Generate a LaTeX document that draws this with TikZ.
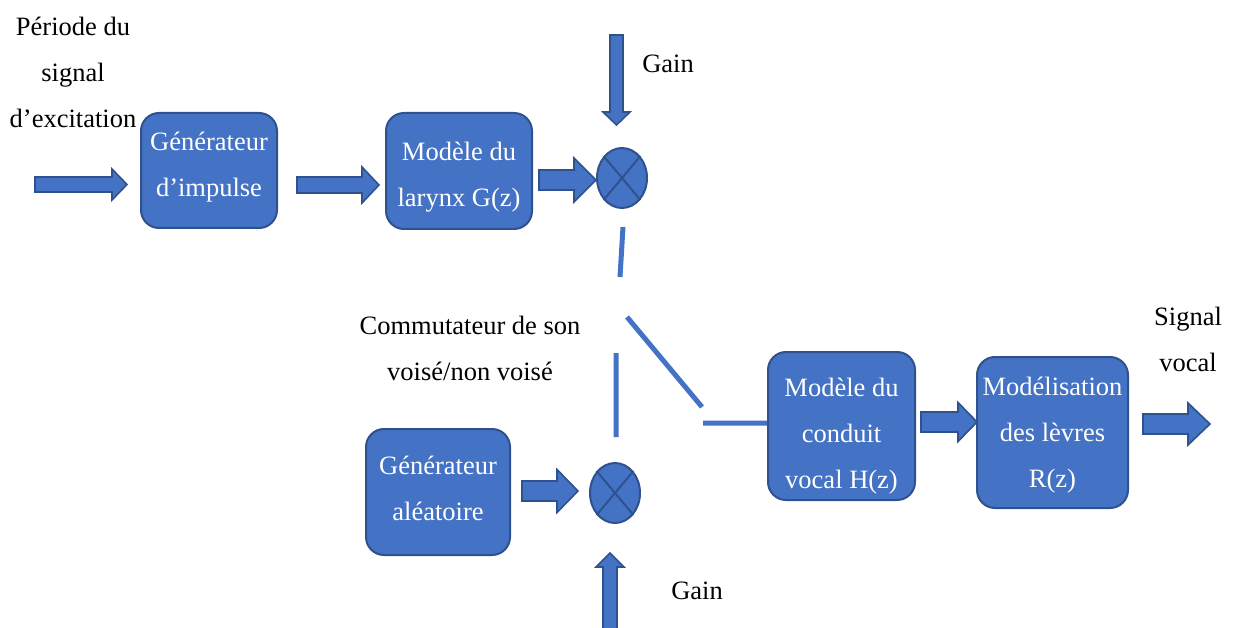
\documentclass[tikz,border=0pt]{standalone}
\usepackage{fontspec}
\setmainfont{Liberation Serif}
\usetikzlibrary{shapes.geometric}
\definecolor{bfill}{HTML}{4472C4}
\definecolor{bline}{HTML}{2F528F}
% block arrows: start, head base, tip, other axis, shaft half, head half
\newcommand{\blockH}[6]{\draw[barrow] (#1,#4-#5) -- (#2,#4-#5) -- (#2,#4-#6) -- (#3,#4)
    -- (#2,#4+#6) -- (#2,#4+#5) -- (#1,#4+#5) -- cycle;}
\newcommand{\blockV}[6]{\draw[barrow] (#4-#5,#1) -- (#4-#5,#2) -- (#4-#6,#2) -- (#4,#3)
    -- (#4+#6,#2) -- (#4+#5,#2) -- (#4+#5,#1) -- cycle;}
\begin{document}
\begin{tikzpicture}[x=1pt,y=-1pt,
        every node/.style={font=\fontsize{26.5}{46}\selectfont,align=center,inner sep=0pt},
        block/.style={draw=bline,line width=2pt,fill=bfill,rounded corners=18pt},
        btext/.style={text=white,yshift=#1},
        mult/.style={ellipse,draw=bline,line width=2pt,fill=bfill,minimum width=50pt,minimum height=60pt},
        barrow/.style={draw=bline,line width=1.6pt,fill=bfill,line join=miter},
        switch/.style={bfill,line width=5pt}]
    \useasboundingbox (0,0) rectangle (1239,628);
    % labels
    \node (periode) at (73,72) {\fontsize{26.5}{48}\selectfont P\'eriode du\\signal\\d'excitation};
    \node (commut) at (470,348) {\fontsize{26.5}{41}\selectfont Commutateur de son\\vois\'e/non vois\'e};
    \node (gainA) at (668,64) {Gain};
    \node (gainB) at (697,591) {Gain};
    \node (signal) at (1188,339) {Signal\\vocal};
    % blocks
    \node[block,minimum width=136pt,minimum height=115pt,
          label={[btext=3pt]center:G\'en\'erateur\\d'impulse}] (impulse) at (209,170.5) {};
    \node[block,minimum width=146pt,minimum height=116pt,
          label={[btext=-6pt]center:Mod\`ele du\\larynx G(z)}] (larynx) at (459,171) {};
    \node[block,minimum width=144pt,minimum height=126pt,
          label={[btext=4pt]center:G\'en\'erateur\\al\'eatoire}] (alea) at (438,492) {};
    \node[block,minimum width=147pt,minimum height=148pt,
          label={[btext=-10pt]center:Mod\`ele du\\conduit\\vocal H(z)}] (conduit) at (841.5,426) {};
    \node[block,minimum width=151pt,minimum height=151pt,
          label={[btext=-3pt]center:Mod\'elisation\\des l\`evres\\R(z)}] (levres) at (1052.5,432.5) {};
    \node[mult] (mulA) at (622,178) {};
    \node[mult] (mulB) at (615,493) {};
    \foreach \m in {mulA,mulB} {
        \draw[bline,line width=2pt] (\m.north west) -- (\m.south east)
                                    (\m.north east) -- (\m.south west);
    }
    % arrows
    \blockH{35}{112}{127}{184.5}{7.5}{15.5}
    \blockH{297}{362}{379}{185}{8}{18}
    \blockH{539}{574}{596}{180}{10}{22}
    \blockH{522}{557}{578}{491}{10}{21.5}
    \blockH{921}{958}{977}{422}{10}{19.5}
    \blockH{1143}{1188}{1210}{424}{10}{21}
    \blockV{35}{112}{125}{616.5}{6.5}{13.5}
    \blockV{640}{567}{553}{610}{7}{14}
    % switch
    \coordinate (swA) at (623,227);
    \coordinate (swB) at (620,277);
    \coordinate (swC) at (627,317);
    \coordinate (swD) at (702,407);
    \coordinate (swE) at (616,353);
    \coordinate (swF) at (616,437);
    \coordinate (swG) at (703,423);
    \draw[switch] (swA) -- (swB)
                  (swC) -- (swD)
                  (swE) -- (swF)
                  (swG) -- (swG -| conduit.west);
\end{tikzpicture}
\end{document}
